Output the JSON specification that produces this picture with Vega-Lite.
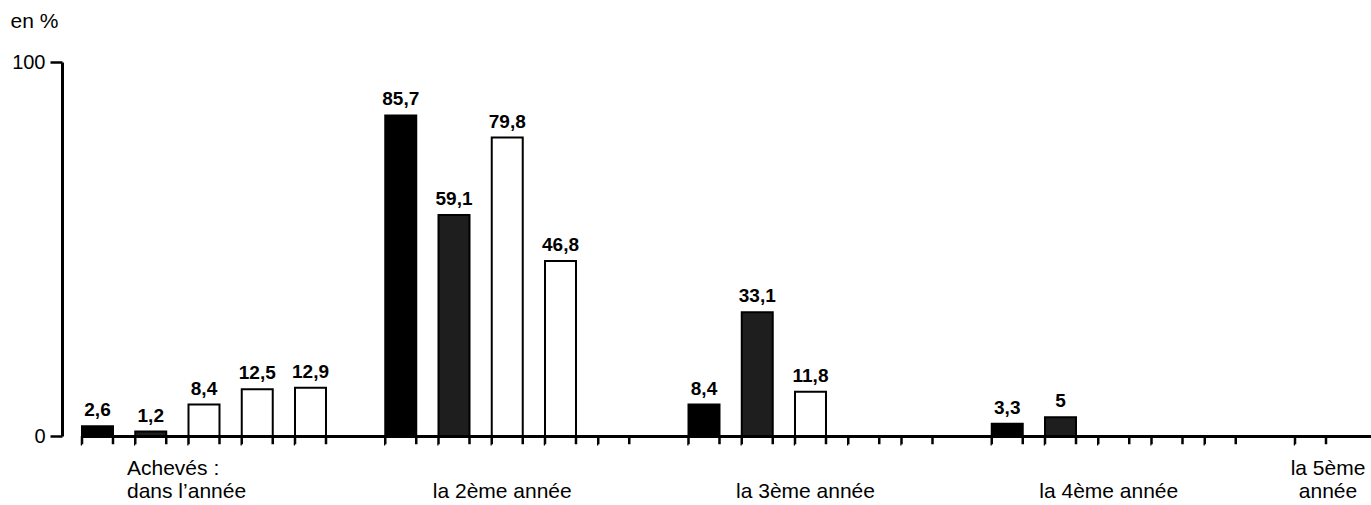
{
  "$schema": "https://vega.github.io/schema/vega-lite/v6.json",
  "width": 1304,
  "height": 374,
  "autosize": {"type": "none"},
  "padding": {"left": 62, "top": 62, "right": 5, "bottom": 69},
  "background": "white",
  "config": {
    "view": {"stroke": null},
    "font": "Liberation Sans",
    "locale": {"number": {"decimal": ",", "thousands": " ", "grouping": [3], "currency": ["", " €"]}}
  },
  "data": {
    "values": [
      {"groupe": "Achevés :|dans l’année", "serie": "s1", "valeur": 2.6},
      {"groupe": "Achevés :|dans l’année", "serie": "s2", "valeur": 1.2},
      {"groupe": "Achevés :|dans l’année", "serie": "s3", "valeur": 8.4},
      {"groupe": "Achevés :|dans l’année", "serie": "s4", "valeur": 12.5},
      {"groupe": "Achevés :|dans l’année", "serie": "s5", "valeur": 12.9},
      {"groupe": "la 2ème année", "serie": "s1", "valeur": 85.7},
      {"groupe": "la 2ème année", "serie": "s2", "valeur": 59.1},
      {"groupe": "la 2ème année", "serie": "s3", "valeur": 79.8},
      {"groupe": "la 2ème année", "serie": "s4", "valeur": 46.8},
      {"groupe": "la 2ème année", "serie": "s5", "valeur": null},
      {"groupe": "la 3ème année", "serie": "s1", "valeur": 8.4},
      {"groupe": "la 3ème année", "serie": "s2", "valeur": 33.1},
      {"groupe": "la 3ème année", "serie": "s3", "valeur": 11.8},
      {"groupe": "la 3ème année", "serie": "s4", "valeur": null},
      {"groupe": "la 3ème année", "serie": "s5", "valeur": null},
      {"groupe": "la 4ème année", "serie": "s1", "valeur": 3.3},
      {"groupe": "la 4ème année", "serie": "s2", "valeur": 5},
      {"groupe": "la 4ème année", "serie": "s3", "valeur": null},
      {"groupe": "la 4ème année", "serie": "s4", "valeur": null},
      {"groupe": "la 4ème année", "serie": "s5", "valeur": null},
      {"groupe": "la 5ème|année", "serie": "s1", "valeur": null}
    ]
  },
  "encoding": {
    "x": {
      "field": "groupe",
      "type": "nominal",
      "sort": null,
      "scale": {"range": [20, 1477], "paddingInner": 0.1954, "paddingOuter": 0},
      "axis": {
        "title": null,
        "orient": "bottom",
        "domainColor": "#000",
        "domainWidth": 3,
        "ticks": false,
        "tickSize": 0,
        "labelAngle": 0,
        "labelFont": "Liberation Sans",
        "labelFontSize": 21,
        "labelColor": "#000",
        "labelPadding": {"condition": {"test": "indexof(datum.value, '|') >= 0", "value": 42}, "value": 65},
        "labelBaseline": "bottom",
        "labelLineHeight": 23,
        "labelExpr": "split(datum.label, '|')",
        "labelAlign": {"condition": {"test": "datum.value === 'Achevés :|dans l’année'", "value": "left"}, "value": "center"},
        "labelOffset": {"condition": [
          {"test": "datum.value === 'la 5ème|année'", "value": -89},
          {"test": "datum.value === 'Achevés :|dans l’année'", "value": -77}
        ], "value": -5},
        "labelOverlap": false,
        "labelFlush": false
      }
    },
    "xOffset": {
      "field": "serie",
      "type": "nominal",
      "scale": {"paddingInner": 0.418, "paddingOuter": 0}
    }
  },
  "layer": [
    {
      "transform": [{"filter": "isValid(datum.valeur)"}],
      "mark": {"type": "bar", "stroke": "#000", "strokeWidth": 2},
      "encoding": {
        "y": {
          "field": "valeur",
          "type": "quantitative",
          "scale": {"domain": [0, 100], "nice": false},
          "axis": {
            "values": [0, 100],
            "grid": false,
            "domainColor": "#000",
            "domainWidth": 3,
            "tickColor": "#000",
            "tickWidth": 2.5,
            "tickSize": 12,
            "labelPadding": 5,
            "labelFont": "Liberation Sans",
            "labelFontSize": 20,
            "labelColor": "#000",
            "title": "en %",
            "titleFont": "Liberation Sans",
            "titleFontSize": 21,
            "titleFontWeight": "normal",
            "titleColor": "#000",
            "titleAngle": 0,
            "titleAlign": "left",
            "titleBaseline": "alphabetic",
            "titleX": -52,
            "titleY": -35
          }
        },
        "fill": {
          "field": "serie",
          "type": "nominal",
          "scale": {"domain": ["s1", "s2", "s3", "s4", "s5"], "range": ["#000000", "#1e1e1e", "#ffffff", "#ffffff", "#ffffff"]},
          "legend": null
        }
      }
    },
    {
      "transform": [{"filter": "isValid(datum.valeur)"}],
      "mark": {"type": "text", "font": "Liberation Sans", "fontSize": 19, "fontWeight": "bold", "color": "#000", "baseline": "alphabetic", "dy": -10},
      "encoding": {
        "y": {"field": "valeur", "type": "quantitative"},
        "text": {"field": "valeur", "type": "quantitative", "format": "~g"}
      }
    },
    {
      "mark": {"type": "bar", "fill": "transparent", "stroke": "#000", "strokeWidth": 2.5, "strokeDash": [0, 31, 8.2, 31, 8.2, 0]},
      "encoding": {
        "y": {"datum": 0},
        "y2": {"datum": -2.2}
      }
    }
  ]
}
